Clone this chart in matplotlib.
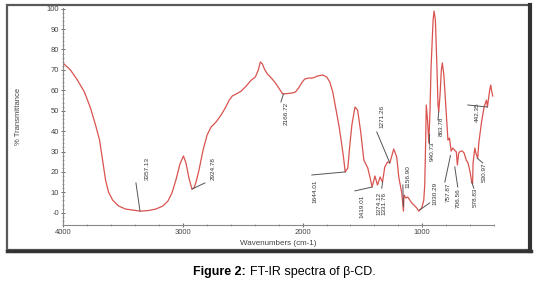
import matplotlib
matplotlib.use('Agg')
import matplotlib.pyplot as plt
from matplotlib.ticker import MultipleLocator, FixedLocator
from matplotlib.patches import Rectangle
from matplotlib.lines import Line2D

# spectrum (wavenumber cm-1, % transmittance)
wavenumbers = [4000, 3941, 3882, 3824, 3773, 3731, 3697, 3672, 3647, 3622,
               3588, 3538, 3479, 3395, 3357, 3286, 3227, 3168, 3126, 3092,
               3059, 3025, 2996, 2975, 2950, 2925, 2908, 2891, 2866, 2832,
               2798, 2765, 2723, 2681, 2647, 2613, 2588, 2555, 2513, 2471,
               2429, 2395, 2370, 2353, 2336, 2319, 2294, 2261, 2227, 2193,
               2167, 2126, 2084, 2059, 2034, 2008, 1983, 1950, 1916, 1874,
               1832, 1798, 1773, 1748, 1723, 1697, 1672, 1655, 1644, 1622,
               1605, 1588, 1571, 1562, 1540, 1513, 1488, 1455, 1435, 1419,
               1395, 1374, 1352, 1332, 1313, 1290, 1271, 1238, 1213, 1196,
               1171, 1163, 1157, 1152, 1137, 1121, 1087, 1045, 1030, 1004,
               987, 979, 971, 966, 955, 945, 935, 926, 909, 901,
               890, 877, 868, 862, 851, 840, 832, 819, 806, 794,
               785, 772, 758, 745, 730, 715, 706, 695, 680, 665,
               650, 632, 617, 600, 586, 579, 575, 560, 552, 536,
               527, 505, 483, 463, 455, 444, 436, 427, 420, 416, 410]
transmittance = [73.2, 70.0, 65.0, 59.2, 51.3, 43.0, 35.6, 25.8, 16.0, 10.1,
                 6.2, 3.3, 1.8, 1.1, 0.8, 1.1, 1.8, 3.3, 5.7, 9.7,
                 16.0, 23.9, 27.8, 24.4, 17.0, 11.6, 12.1, 15.0, 20.9, 30.7,
                 38.1, 42.0, 44.5, 47.9, 51.3, 55.2, 57.2, 58.2, 59.6, 62.1,
                 65.0, 66.5, 70.0, 73.9, 72.9, 70.4, 68.0, 66.0, 63.6, 60.6,
                 58.2, 58.4, 58.7, 59.2, 61.1, 63.6, 65.5, 66.0, 66.0, 67.0,
                 67.5, 66.5, 64.1, 59.2, 51.3, 43.0, 33.2, 25.8, 20.0, 21.9,
                 33.2, 43.0, 48.9, 51.8, 50.3, 39.1, 25.8, 21.9, 17.0, 12.6,
                 18.0, 13.6, 17.5, 15.0, 22.4, 24.9, 24.4, 31.2, 27.3, 17.5,
                 9.7, 4.8, 0.8, 8.7, 7.2, 7.7, 4.8, 2.3, 0.8, 2.3,
                 6.2, 13.6, 35.6, 52.8, 45.0, 34.2, 50.0, 71.4, 94.5, 98.8,
                 94.5, 71.4, 52.8, 49.4, 57.7, 70.0, 73.4, 67.5, 55.2, 43.0,
                 35.6, 36.6, 30.2, 31.7, 30.7, 29.8, 23.4, 29.3, 30.2, 30.2,
                 29.3, 25.8, 24.4, 20.0, 15.0, 14.1, 24.4, 31.7, 29.3, 26.8,
                 34.2, 44.0, 51.8, 55.2, 51.8, 56.7, 60.1, 62.6, 59.7, 58.7, 57.2]

# peak labels: text, point on curve, end of leader line, text x, text top
peak_labels = ['3357.13', '2924.78', '2166.72', '1644.01', '1419.01',
               '1374.12', '1331.76', '1271.26', '1156.90', '1030.29',
               '940.73', '863.78', '757.87', '706.56', '578.83',
               '530.97', '442.35']
peak_points = [(3359, 0.8), (2925, 11.6), (2160, 58.2), (1644, 20.0), (1419, 12.6),
               (1374, 13.6), (1332, 15.0), (1271, 24.4), (1157, 3.0), (1021, 1.4),
               (945, 34.2), (862, 49.4), (764, 28.0), (728, 22.5), (586, 15.0),
               (541, 26.8), (455, 51.8)]
line_ends = [(3393, 14.6), (2816, 14.6), (2181, 54.3), (1923, 18.5), (1563, 10.7),
             (1374, 13.6), (1338, 12.0), (1380, 39.6), (1162, 13.6), (938, 4.8),
             (945, 38.5), (868, 45.5), (811, 15.0), (703, 12.6), (569, 12.0),
             (494, 24.4), (619, 52.8)]
text_x = [3301, 2748, 2139, 1898, 1505, 1363, 1321, 1338, 1120, 896,
          920, 844, 786, 703, 553, 486, 540]
text_top = [27.4, 27.4, 54.3, 16.1, 8.7, 10.2, 10.2, 52.8, 23.4, 15.0,
            34.7, 47.0, 15.0, 12.2, 12.2, 24.4, 54.3]

y_ticks = list(range(0, 101, 10))
y_tick_labels = ['-0'] + [str(v) for v in y_ticks[1:]]
x_ticks = [4000, 3000, 2000, 1000]

plt.rcParams['font.family'] = ['Liberation Sans', 'DejaVu Sans']

fig = plt.figure(figsize=(5.39, 2.83), dpi=100)

# outer frame of the figure panel
fig.patches.append(Rectangle((0.013, 0.117), 0.970, 0.865, transform=fig.transFigure,
                             fill=False, edgecolor='#5a5a5a', linewidth=1.6))
fig.lines.append(Line2D([0.983, 0.983], [0.112, 0.982], transform=fig.transFigure,
                        color='#333333', linewidth=3.0))
fig.lines.append(Line2D([0.013, 0.985], [0.114, 0.114], transform=fig.transFigure,
                        color='#333333', linewidth=2.5))

ax = fig.add_axes([0.1175, 0.205, 0.799, 0.768])
ax.plot(wavenumbers, transmittance, color='#d9534f', linewidth=0.9)

for lab, p, e, tx, ty in zip(peak_labels, peak_points, line_ends, text_x, text_top):
    ax.plot([p[0], e[0]], [p[1], e[1]], color='#555555', linewidth=0.7)
    ax.text(tx, ty, lab, rotation=90, ha='center', va='top', fontsize=4.6,
            color='#333333')

ax.set_xlim(4000, 400)
ax.set_ylim(-6, 100.5)
ax.set_yticks(y_ticks)
ax.set_yticklabels(y_tick_labels)
ax.yaxis.set_minor_locator(MultipleLocator(2))
ax.xaxis.set_major_locator(FixedLocator(x_ticks))
ax.xaxis.set_minor_locator(MultipleLocator(200))
ax.tick_params(which='major', direction='inout', length=3, width=0.6,
               labelsize=5.5, colors='#555555', labelcolor='#444444', pad=1.5)
ax.tick_params(which='minor', direction='inout', length=1.5, width=0.5,
               colors='#777777')

for s in ['top', 'right']:
    ax.spines[s].set_visible(False)
for s in ['left', 'bottom']:
    ax.spines[s].set_color('#888888')
    ax.spines[s].set_linewidth(0.8)

ax.set_xlabel('Wavenumbers (cm-1)', fontsize=5.8, color='#444444', labelpad=3)
ax.set_ylabel('% Transmittance', fontsize=5.5, color='#444444', labelpad=18)

fig.text(0.358, 0.040, 'Figure 2:', fontsize=9, fontweight='bold', ha='left',
         va='center', color='black')
fig.text(0.464, 0.040, 'FT-IR spectra of β-CD.', fontsize=9, ha='left',
         va='center', color='black')

fig.savefig('out.png', dpi=100)
